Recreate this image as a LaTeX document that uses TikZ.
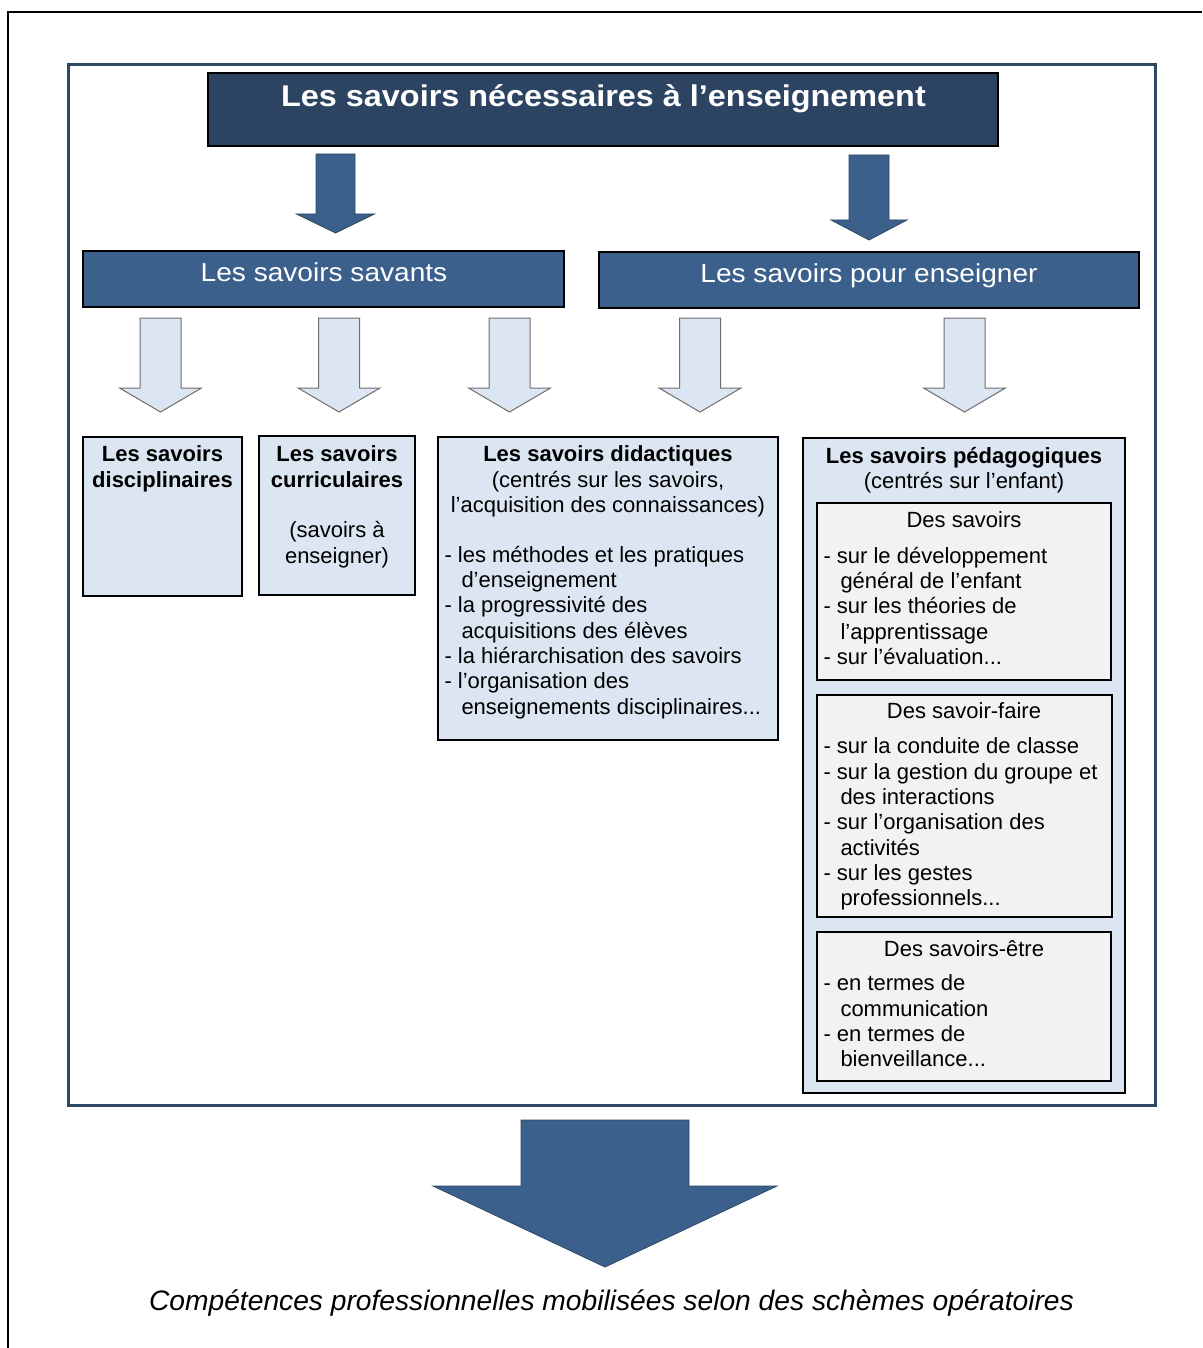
\documentclass[tikz,border=0pt]{standalone}
\usepackage{fontspec}
\setmainfont{Liberation Sans}
\newfontfamily\widesans[FakeStretch=1.08]{Liberation Sans}
\definecolor{navy}{RGB}{44,68,98}
\definecolor{midblue}{RGB}{60,96,140}
\definecolor{lightblue}{RGB}{220,230,242}
\definecolor{subgray}{RGB}{242,242,242}
\definecolor{framecol}{RGB}{46,72,100}
\definecolor{arrowedge}{RGB}{110,110,110}
\tikzset{
  area/.style={draw=black, line width=1.3pt, inner sep=0pt, outer sep=0pt, anchor=north west},
  titlebox/.style={area, fill=navy},
  headbox/.style={area, fill=midblue},
  lightbox/.style={area, fill=lightblue},
  subbox/.style={area, fill=subgray},
  darkarrow/.style={fill=midblue, draw=framecol, line width=0.8pt, line join=miter},
  lightarrow/.style={fill=lightblue, draw=arrowedge, line width=1pt, line join=miter},
  bodytext/.style={inner sep=0pt, outer sep=0pt, font=\fontsize{22}{25.3}\selectfont},
  centred/.style={bodytext, align=center, anchor=north},
  listtext/.style={bodytext, align=left, anchor=north west},
  headtext/.style={anchor=base, inner sep=0pt, text=white, font=\fontsize{26}{30}\widesans},
}
\newcommand\blockarrow[7]{%
  \draw[#1] ({#2-#6},#3) -- ({#2+#6},#3) -- ({#2+#6},#4) -- ({#2+#7},#4)
    -- (#2,#5) -- ({#2-#7},#4) -- ({#2-#6},#4) -- cycle;}
\newcommand\ind{\hspace*{17pt}}
\begin{document}
\begin{tikzpicture}[x=1pt,y=-1pt]
\fill[white] (0,0) rectangle (1202,1348);
\useasboundingbox (0,0) rectangle (1202,1348);
% outer frame (only top and left visible)
\draw[black, line width=1.6pt] (8,1348) -- (8,12) -- (1202,12);
% inner frame
\draw[framecol, line width=3pt] (68,65) rectangle (1155,1105);

% title
\node[titlebox, minimum width=790pt, minimum height=73pt] (title) at (208,73) {};
\node[anchor=base, inner sep=0pt, text=white, font=\fontsize{30}{34}\widesans\bfseries] (titletxt) at (603.5,106.5) {Les savoirs nécessaires à l’enseignement};

% dark arrows
\blockarrow{darkarrow}{335.5}{154}{214}{233}{19.5}{39}
\blockarrow{darkarrow}{869}{155}{220}{240}{20}{38}

% level 2
\node[headbox, minimum width=481pt, minimum height=56pt] (savants) at (83,251) {};
\node[headtext] (savantstxt) at (324,281) {Les savoirs savants};
\node[headbox, minimum width=540pt, minimum height=56pt] (pour) at (599,252) {};
\node[headtext] (pourtxt) at (869,282) {Les savoirs pour enseigner};

% light arrows
\blockarrow{lightarrow}{160.5}{318}{388}{412}{20.5}{41}
\blockarrow{lightarrow}{339}{318}{388}{412}{20.5}{41}
\blockarrow{lightarrow}{509.5}{318}{388}{412}{20.5}{41}
\blockarrow{lightarrow}{700}{318}{388}{412}{20.5}{41}
\blockarrow{lightarrow}{964.5}{318}{388}{412}{20.5}{41}

% level 3 boxes
\node[lightbox, minimum width=159pt, minimum height=159pt] (disc) at (83,437) {};
\node[centred] (disctxt) at (162.5,446) {\textbf{Les savoirs}\\\textbf{disciplinaires}};

\node[lightbox, minimum width=156pt, minimum height=159pt] (curr) at (259,436) {};
\node[centred] (currtxt) at (337,446) {\textbf{Les savoirs}\\\textbf{curriculaires}\\[25.3pt](savoirs à\\enseigner)};

\node[lightbox, minimum width=340pt, minimum height=303pt] (didac) at (438,437) {};
\node[centred] (didachead) at (608,446) {\textbf{Les savoirs didactiques}\\(centrés sur les savoirs,\\l’acquisition des connaissances)};
\node[listtext] (didaclist) at (444.5,546) {- les méthodes et les pratiques\\\ind d’enseignement\\- la progressivité des\\\ind acquisitions des élèves\\- la hiérarchisation des savoirs\\- l’organisation des\\\ind enseignements disciplinaires...};

\node[lightbox, minimum width=322pt, minimum height=655pt] (peda) at (803,438) {};
\node[centred] (pedahead) at (964,447) {\textbf{Les savoirs pédagogiques}\\(centrés sur l’enfant)};

\node[subbox, minimum width=294pt, minimum height=177pt] (sub1) at (817,503) {};
\node[centred] (sub1head) at (964,512) {Des savoirs};
\node[listtext] (sub1list) at (823.5,547) {- sur le développement\\\ind général de l’enfant\\- sur les théories de\\\ind l’apprentissage\\- sur l’évaluation...};

\node[subbox, minimum width=295pt, minimum height=222pt] (sub2) at (817,695) {};
\node[centred] (sub2head) at (964,703) {Des savoir-faire};
\node[listtext] (sub2list) at (823.5,738) {- sur la conduite de classe\\- sur la gestion du groupe et\\\ind des interactions\\- sur l’organisation des\\\ind activités\\- sur les gestes\\\ind professionnels...};

\node[subbox, minimum width=294pt, minimum height=149pt] (sub3) at (817,932) {};
\node[centred] (sub3head) at (964,940) {Des savoirs-être};
\node[listtext] (sub3list) at (823.5,975) {- en termes de\\\ind communication\\- en termes de\\\ind bienveillance...};

% big arrow
\blockarrow{darkarrow}{605}{1120}{1186}{1267}{84}{172}

% conclusion
\node[anchor=base, inner sep=0pt, font=\fontsize{28.2}{32}\selectfont\itshape] (concl) at (611.5,1310) {Compétences professionnelles mobilisées selon des schèmes opératoires};
\end{tikzpicture}
\end{document}
